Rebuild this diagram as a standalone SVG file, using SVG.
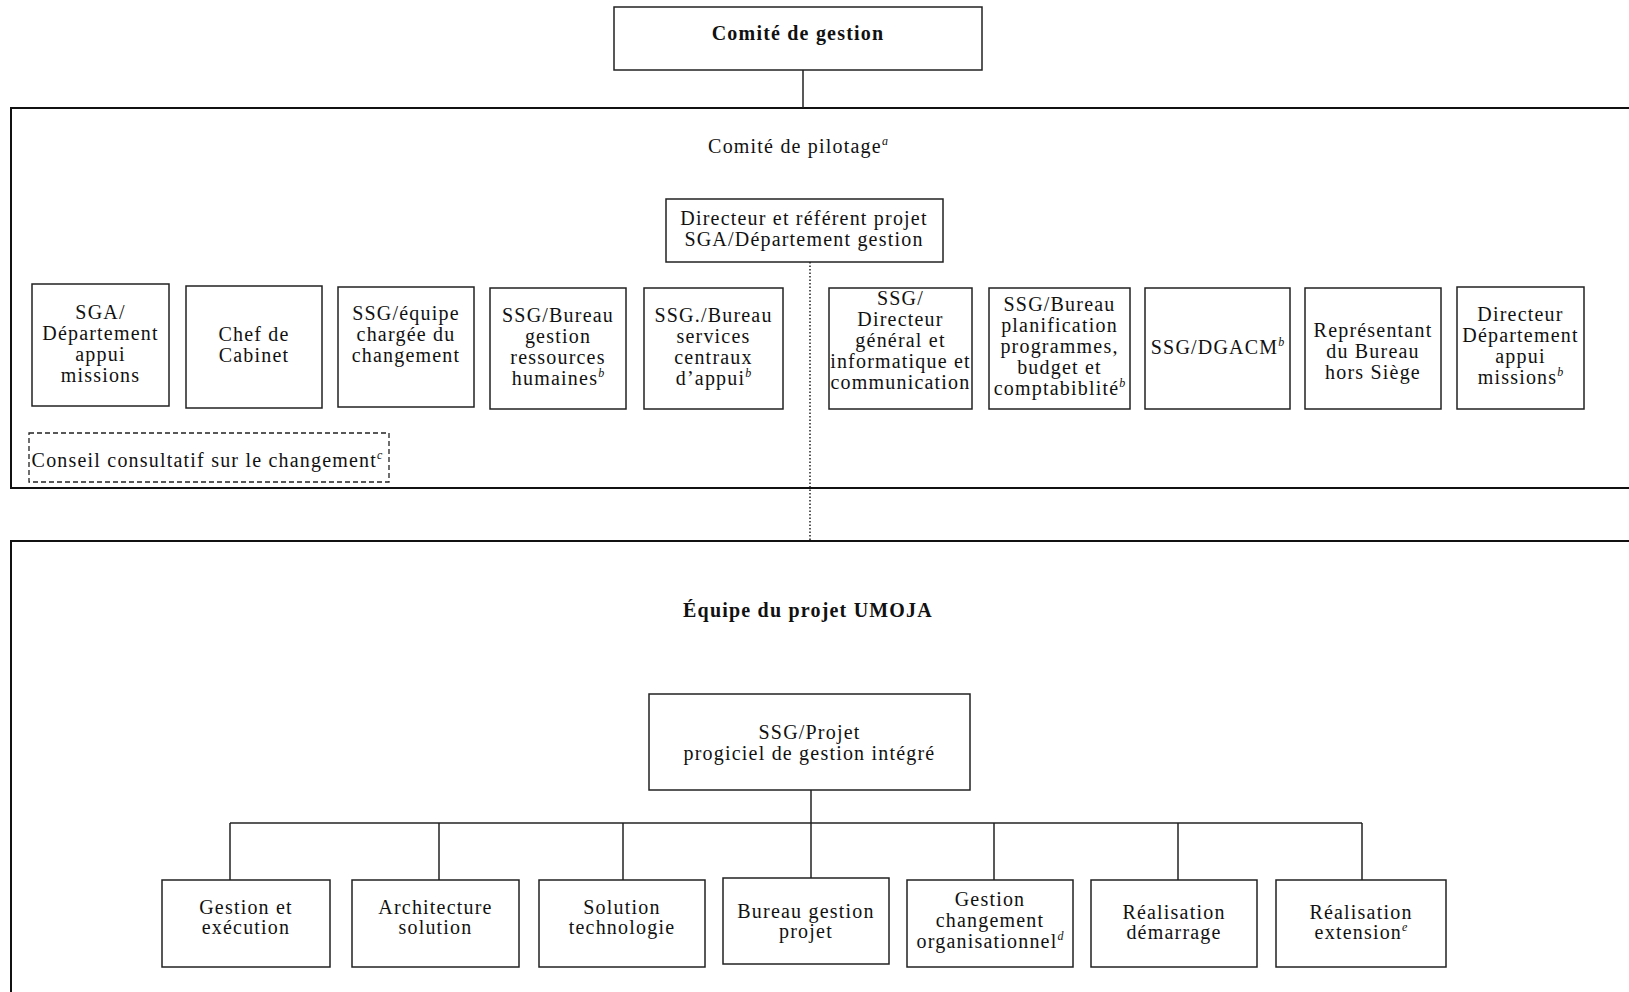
<svg xmlns="http://www.w3.org/2000/svg" width="1629" height="992" viewBox="0 0 1629 992">
<style>
.bg{fill:#fff}
.box{fill:#fff;stroke:#222;stroke-width:1.5}
.dash{fill:#fff;stroke:#222;stroke-width:1.3;stroke-dasharray:5 3}
.frame{fill:none;stroke:#111;stroke-width:2}
.ln{stroke:#222;stroke-width:1.5;fill:none}
.dot{stroke:#222;stroke-width:1.5;stroke-dasharray:1.5 2;fill:none}
.t{font-family:"Liberation Serif","Times New Roman",serif;font-size:20px;letter-spacing:1.2px;text-anchor:middle;fill:#111}
.b{font-weight:bold}
.sup{font-size:12px;font-style:italic;letter-spacing:0}
</style>
<rect class="bg" x="0" y="0" width="1629" height="992"/>
<g id="frames">
<rect class="frame" x="11" y="108" width="1700" height="380"/>
<rect class="frame" x="11" y="541" width="1700" height="500"/>
</g>
<g id="connectors">
<line class="ln" x1="803" y1="70" x2="803" y2="108"/>
<line class="dot" x1="810" y1="262" x2="810" y2="541"/>
<line class="ln" x1="811" y1="790" x2="811" y2="823"/>
<line class="ln" x1="230" y1="823" x2="1362" y2="823"/>
<line class="ln" x1="230" y1="823" x2="230" y2="880"/>
<line class="ln" x1="439" y1="823" x2="439" y2="880"/>
<line class="ln" x1="623" y1="823" x2="623" y2="880"/>
<line class="ln" x1="811" y1="823" x2="811" y2="878"/>
<line class="ln" x1="994" y1="823" x2="994" y2="880"/>
<line class="ln" x1="1178" y1="823" x2="1178" y2="880"/>
<line class="ln" x1="1362" y1="823" x2="1362" y2="880"/>
</g>
<g id="comite-gestion">
<rect class="box" x="614" y="7" width="368" height="63"/>
<text class="t b" x="798" y="40">Comité de gestion</text>
</g>
<g id="comite-pilotage">
<text class="t" x="798" y="153">Comité de pilotage<tspan class="sup" dy="-8">a</tspan></text>
</g>
<g id="directeur-referent">
<rect class="box" x="666" y="199" width="277" height="63"/>
<text class="t"><tspan x="804" y="225">Directeur et référent projet</tspan><tspan x="804" y="246">SGA/Département gestion</tspan></text>
</g>
<g id="sga-dam">
<rect class="box" x="32" y="284" width="137" height="122"/>
<text class="t"><tspan x="100.5" y="319">SGA/</tspan><tspan x="100.5" y="340">Département</tspan><tspan x="100.5" y="361">appui</tspan><tspan x="100.5" y="382">missions</tspan></text>
</g>
<g id="chef-cabinet">
<rect class="box" x="186" y="286" width="136" height="122"/>
<text class="t"><tspan x="254" y="341">Chef de</tspan><tspan x="254" y="362">Cabinet</tspan></text>
</g>
<g id="ssg-equipe">
<rect class="box" x="338" y="287" width="136" height="120"/>
<text class="t"><tspan x="406" y="320">SSG/équipe</tspan><tspan x="406" y="341">chargée du</tspan><tspan x="406" y="362">changement</tspan></text>
</g>
<g id="ssg-brh">
<rect class="box" x="490" y="288" width="136" height="121"/>
<text class="t"><tspan x="558" y="322">SSG/Bureau</tspan><tspan x="558" y="343">gestion</tspan><tspan x="558" y="364">ressources</tspan><tspan x="558" y="385">humaines<tspan class="sup" dy="-8">b</tspan></tspan></text>
</g>
<g id="ssg-bsca">
<rect class="box" x="644" y="288" width="139" height="121"/>
<text class="t"><tspan x="713.5" y="322">SSG./Bureau</tspan><tspan x="713.5" y="343">services</tspan><tspan x="713.5" y="364">centraux</tspan><tspan x="713.5" y="385">d’appui<tspan class="sup" dy="-8">b</tspan></tspan></text>
</g>
<g id="ssg-dgic">
<rect class="box" x="829" y="288" width="143" height="121"/>
<text class="t"><tspan x="900.5" y="305">SSG/</tspan><tspan x="900.5" y="326">Directeur</tspan><tspan x="900.5" y="347">général et</tspan><tspan x="900.5" y="368">informatique et</tspan><tspan x="900.5" y="389">communication</tspan></text>
</g>
<g id="ssg-bppbc">
<rect class="box" x="989" y="288" width="141" height="121"/>
<text class="t"><tspan x="1059.5" y="311">SSG/Bureau</tspan><tspan x="1059.5" y="332">planification</tspan><tspan x="1059.5" y="353">programmes,</tspan><tspan x="1059.5" y="374">budget et</tspan><tspan x="1059.5" y="395">comptabiblité<tspan class="sup" dy="-8">b</tspan></tspan></text>
</g>
<g id="ssg-dgacm">
<rect class="box" x="1145" y="288" width="145" height="121"/>
<text class="t" x="1217.5" y="354">SSG/DGACM<tspan class="sup" dy="-8">b</tspan></text>
</g>
<g id="representant">
<rect class="box" x="1305" y="288" width="136" height="121"/>
<text class="t"><tspan x="1373" y="337">Représentant</tspan><tspan x="1373" y="358">du Bureau</tspan><tspan x="1373" y="379">hors Siège</tspan></text>
</g>
<g id="directeur-dam">
<rect class="box" x="1457" y="287" width="127" height="122"/>
<text class="t"><tspan x="1520.5" y="321">Directeur</tspan><tspan x="1520.5" y="342">Département</tspan><tspan x="1520.5" y="363">appui</tspan><tspan x="1520.5" y="384">missions<tspan class="sup" dy="-8">b</tspan></tspan></text>
</g>
<g id="conseil-consultatif">
<rect class="dash" x="29" y="433" width="360" height="49"/>
<text class="t" x="207" y="467">Conseil consultatif sur le changement<tspan class="sup" dy="-8">c</tspan></text>
</g>
<g id="equipe-umoja">
<text class="t b" x="808" y="617">Équipe du projet UMOJA</text>
</g>
<g id="ssg-projet">
<rect class="box" x="649" y="694" width="321" height="96"/>
<text class="t"><tspan x="809.5" y="739">SSG/Projet</tspan><tspan x="809.5" y="760">progiciel de gestion intégré</tspan></text>
</g>
<g id="gestion-execution">
<rect class="box" x="162" y="880" width="168" height="87"/>
<text class="t"><tspan x="246" y="914">Gestion et</tspan><tspan x="246" y="934">exécution</tspan></text>
</g>
<g id="architecture-solution">
<rect class="box" x="352" y="880" width="167" height="87"/>
<text class="t"><tspan x="435.5" y="914">Architecture</tspan><tspan x="435.5" y="934">solution</tspan></text>
</g>
<g id="solution-technologie">
<rect class="box" x="539" y="880" width="166" height="87"/>
<text class="t"><tspan x="622" y="914">Solution</tspan><tspan x="622" y="934">technologie</tspan></text>
</g>
<g id="bureau-gestion-projet">
<rect class="box" x="723" y="878" width="166" height="86"/>
<text class="t"><tspan x="806" y="918">Bureau gestion</tspan><tspan x="806" y="938">projet</tspan></text>
</g>
<g id="gestion-changement">
<rect class="box" x="907" y="880" width="166" height="87"/>
<text class="t"><tspan x="990" y="906">Gestion</tspan><tspan x="990" y="927">changement</tspan><tspan x="990" y="948">organisationnel<tspan class="sup" dy="-8">d</tspan></tspan></text>
</g>
<g id="realisation-demarrage">
<rect class="box" x="1091" y="880" width="166" height="87"/>
<text class="t"><tspan x="1174" y="919">Réalisation</tspan><tspan x="1174" y="939">démarrage</tspan></text>
</g>
<g id="realisation-extension">
<rect class="box" x="1276" y="880" width="170" height="87"/>
<text class="t"><tspan x="1361" y="919">Réalisation</tspan><tspan x="1361" y="939">extension<tspan class="sup" dy="-8">e</tspan></tspan></text>
</g>
</svg>
